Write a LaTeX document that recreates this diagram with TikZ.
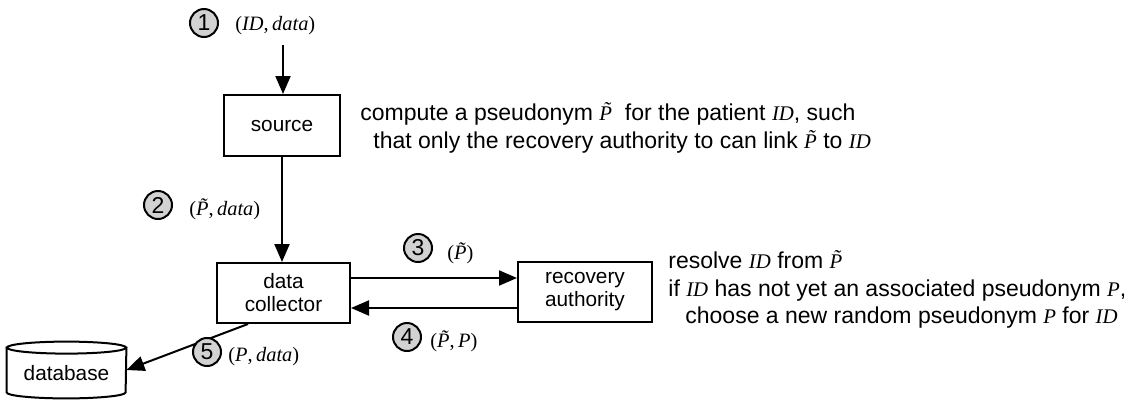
\documentclass[tikz,border=0pt]{standalone}
\usepackage{fontspec}
\setmainfont{Liberation Sans}
\newfontfamily\varfont{Liberation Serif}
\usetikzlibrary{arrows.meta}

% italic variable inside a message label (font already serif)
\newcommand{\vi}[1]{{\itshape #1}}
% italic variable inside running sans-serif notes
\newcommand{\nv}[1]{{\varfont\itshape\fontsize{10.4}{12}\selectfont #1}}
\newcommand{\Ptil}{\nv{P̃}}

\tikzset{
  conn/.style={line width=1pt, -{Triangle[length=9pt,width=7.5pt]}},
  plainbox/.style={draw, line width=1pt, fill=white, align=center,
    font=\fontsize{10.4}{11.5}\selectfont, inner sep=0pt},
  stepnum/.style={circle, draw, line width=1pt, fill=gray!35, minimum size=14pt,
    inner sep=0pt, font=\fontsize{11.5}{13}\selectfont},
  msg/.style={anchor=west, inner sep=0pt, font=\varfont\fontsize{10.2}{12}\selectfont},
  note/.style={anchor=base west, inner sep=0pt, font=\fontsize{11.5}{13}\selectfont},
}

\begin{document}
\begin{tikzpicture}[x=0.5pt, y=-0.5pt]
\fill[white] (0,0) rectangle (1142,403);
\useasboundingbox (0,0) rectangle (1142,403);

% boxes
\node[plainbox, minimum width=58pt, minimum height=30.5pt] (src) at (282,125.5) {source};
\node[plainbox, minimum width=66.5pt, minimum height=30pt] (col) at (283.5,293) {data\\collector};
\node[plainbox, minimum width=67pt, minimum height=30pt] (rec) at (585,292) {recovery\\authority};

% database cylinder
\node[minimum width=59.5pt, minimum height=22pt, inner sep=0pt,
      font=\fontsize{10.4}{11.5}\selectfont] (db) at (66.5,370) {};
\draw[line width=1pt, fill=white] (db.north west) -- (db.south west)
  arc[start angle=180, end angle=360, x radius=29.75pt, y radius=3pt]
  -- (db.north east) -- cycle;
\draw[line width=1pt, fill=white] (db.north) ellipse[x radius=29.75pt, y radius=3pt];
\node[font=\fontsize{10.4}{11.5}\selectfont] (dblabel) at ([yshift=-1.5pt]db.center) {database};

% connectors
\coordinate (in) at (283,45);
\draw[conn] (in) -- (in |- src.north);
\draw[conn] (src.south) -- (src.south |- col.north);
\draw[conn] ([yshift=7.5pt]col.east) -- ([yshift=7.5pt]col.east -| rec.west);
\draw[conn] ([yshift=-8pt]rec.west) -- ([yshift=-8pt]rec.west -| col.east);
\draw[conn] ([xshift=-17.75pt]col.south) -- (db.east);

% step markers and messages
\node[stepnum] (n1) at (204,23) {1};
\node[msg] (m1) at (235,26) {(\vi{ID},\,\vi{data})};
\node[stepnum] (n2) at (158,205) {2};
\node[msg] (m2) at (189,209) {(\vi{P̃},\,\vi{data})};
\node[stepnum] (n3) at (418,248) {3};
\node[msg] (m3) at (447,253) {(\vi{P̃})};
\node[stepnum] (n4) at (407,337) {4};
\node[msg] (m4) at (430,341) {(\vi{P̃},\,\vi{P})};
\node[stepnum] (n5) at (207,352) {5};
\node[msg] (m5) at (228,357) {(\vi{P},\,\vi{data})};

% notes
\node[note] (t1) at (360,120) {compute a pseudonym \Ptil\ \ for the patient \nv{ID}, such};
\node[note] (t2) at (373,148) {that only the recovery authority to can link \Ptil\ to \nv{ID}};
\node[note] (r1) at (668,268) {resolve \nv{ID} from \Ptil};
\node[note] (r2) at (668,296) {if \nv{ID} has not yet an associated pseudonym \nv{P},};
\node[note] (r3) at (685,323) {choose a new random pseudonym \nv{P} for \nv{ID}};
\end{tikzpicture}
\end{document}
